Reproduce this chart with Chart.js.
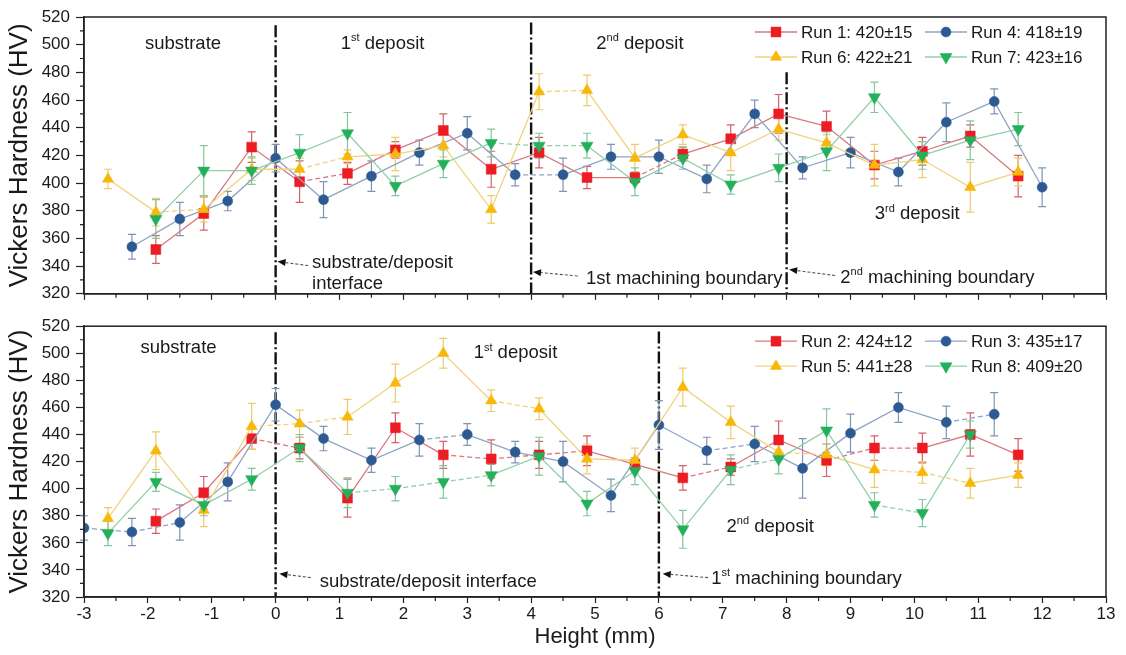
<!DOCTYPE html>
<html>
<head>
<meta charset="utf-8">
<script src="https://cdn.jsdelivr.net/npm/chart.js@4.4.1/dist/chart.umd.min.js"></script>
<style>
  html, body { margin: 0; padding: 0; background: #fff; }
  #wrap { position: relative; width: 1126px; height: 655px; }
  canvas { position: absolute; left: 0; }
  #top { top: 0; }
  #bottom { top: 310px; }
</style>
</head>
<body>
<div id="wrap">
  <canvas id="top" width="1126" height="310"></canvas>
  <canvas id="bottom" width="1126" height="345"></canvas>
</div>
<script>
// ---------- Axis ranges ----------
const xMin = -3, xMax = 13, xStep = 1;
const yMin = 320, yMax = 520, yStep = 20;

// ---------- Upper panel: Runs 1, 4, 6, 7 ----------
const run1Label = 'Run 1: 420\u00b115';
const run1X   = [-1.875, -1.125, -0.375, 0.375, 1.125, 1.875, 2.625, 3.375, 4.125, 4.875, 5.625, 6.375, 7.125, 7.875, 8.625, 9.375, 10.125, 10.875, 11.625];
const run1HV  = [352, 378, 426, 401, 407, 424, 438, 410, 422, 404, 404, 421, 432, 450, 441, 413, 423, 434, 405];
const run1Err = [10, 12, 11, 15, 8, 6, 12, 13, 11, 8, 4, 5, 10, 14, 11, 10, 10, 8, 15];

const run4Label = 'Run 4: 418\u00b119';
const run4X   = [-2.25, -1.5, -0.75, 0, 0.75, 1.5, 2.25, 3, 3.75, 4.5, 5.25, 6, 6.75, 7.5, 8.25, 9, 9.75, 10.5, 11.25, 12];
const run4HV  = [354, 374, 387, 418, 388, 405, 422, 436, 406, 406, 419, 419, 403, 450, 411, 422, 408, 444, 459, 397];
const run4Err = [9, 12, 7, 10, 13, 11, 9, 12, 8, 12, 9, 12, 10, 10, 8, 11, 10, 14, 9, 14];

const run6Label = 'Run 6: 422\u00b121';
const run6X   = [-2.625, -1.875, -1.125, -0.375, 0.375, 1.125, 1.875, 2.625, 3.375, 4.125, 4.875, 5.625, 6.375, 7.125, 7.875, 8.625, 9.375, 10.125, 10.875, 11.625];
const run6HV  = [403, 379, 381, 410, 410, 419, 421, 427, 381, 466, 467, 418, 435, 422, 439, 429, 413, 417, 397, 408];
const run6Err = [7, 10, 9, 8, 8, 5, 12, 8, 10, 13, 11, 10, 7, 13, 8, 6, 15, 13, 18, 10];

const run7Label = 'Run 7: 423\u00b116';
const run7X   = [-1.875, -1.125, -0.375, 0.375, 1.125, 1.875, 2.625, 3.375, 4.125, 4.875, 5.625, 6.375, 7.125, 7.875, 8.625, 9.375, 10.125, 10.875, 11.625];
const run7HV  = [374, 409, 409, 422, 436, 398, 414, 429, 427, 427, 401, 418, 399, 411, 423, 462, 420, 431, 439];
const run7Err = [14, 18, 10, 13, 15, 7, 10, 10, 9, 9, 10, 8, 7, 10, 14, 11, 10, 14, 12];

// ---------- Lower panel: Runs 2, 3, 5, 8 ----------
const run2Label = 'Run 2: 424\u00b112';
const run2X   = [-1.875, -1.125, -0.375, 0.375, 1.125, 1.875, 2.625, 3.375, 4.125, 4.875, 5.625, 6.375, 7.125, 7.875, 8.625, 9.375, 10.125, 10.875, 11.625];
const run2HV  = [376, 397, 437, 430, 393, 445, 425, 422, 425, 428, 418, 408, 416, 436, 421, 430, 430, 440, 425];
const run2Err = [9, 12, 8, 8, 14, 11, 10, 14, 10, 11, 5, 9, 6, 14, 12, 9, 11, 16, 12];

const run3Label = 'Run 3: 435\u00b117';
const run3X   = [-3, -2.25, -1.5, -0.75, 0, 0.75, 1.5, 2.25, 3, 3.75, 4.5, 5.25, 6, 6.75, 7.5, 8.25, 9, 9.75, 10.5, 11.25];
const run3HV  = [371, 368, 375, 405, 462, 437, 421, 436, 440, 427, 420, 395, 447, 428, 433, 415, 441, 460, 449, 455];
const run3Err = [9, 10, 13, 14, 12, 9, 9, 12, 8, 8, 15, 12, 18, 10, 13, 22, 14, 11, 12, 16];

const run5Label = 'Run 5: 441\u00b128';
const run5X   = [-2.625, -1.875, -1.125, -0.375, 0.375, 1.125, 1.875, 2.625, 3.375, 4.125, 4.875, 5.625, 6.375, 7.125, 7.875, 8.625, 9.375, 10.125, 10.875, 11.625];
const run5HV  = [378, 428, 384, 446, 448, 453, 478, 500, 465, 459, 422, 421, 475, 449, 427, 425, 414, 412, 404, 410];
const run5Err = [8, 14, 12, 17, 10, 13, 14, 11, 8, 8, 11, 9, 14, 12, 6, 8, 13, 8, 11, 9];

const run8Label = 'Run 8: 409\u00b120';
const run8X   = [-2.625, -1.875, -1.125, -0.375, 0.375, 1.125, 1.875, 2.625, 3.375, 4.125, 4.875, 5.625, 6.375, 7.125, 7.875, 8.625, 9.375, 10.125, 10.875];
const run8HV  = [367, 405, 388, 407, 430, 397, 400, 405, 410, 424, 389, 413, 370, 414, 422, 443, 388, 382, 440];
const run8Err = [9, 7, 8, 8, 10, 11, 9, 12, 8, 14, 9, 10, 14, 11, 11, 16, 9, 10, 10];

// ---------- Styles ----------
const FONT = '"Liberation Sans", Arial, Helvetica, sans-serif';
const TEXT = '#1a1a1a';
const STYLE = {
  red:    { marker: '#ec1c24', line: '#d9787e', err: '#d2626a', shape: 'rect',     rot: 0,   r: 7 },
  blue:   { marker: '#2d5a93', line: '#8fa4c3', err: '#7f95b5', shape: 'circle',   rot: 0,   r: 5 },
  yellow: { marker: '#f7b80a', line: '#f1d27e', err: '#edcb6c', shape: 'triangle', rot: 0,   r: 6.5 },
  green:  { marker: '#24b05b', line: '#93cfa9', err: '#86c59e', shape: 'triangle', rot: 180, r: 7 }
};

function series(label, xs, ys, es, st, order, dashed) {
  return {
    label: label,
    order: order,
    data: xs.map((x, i) => ({ x: x, y: ys[i], e: es[i] })),
    borderColor: st.line,
    borderWidth: 1.3,
    backgroundColor: st.marker,
    pointBackgroundColor: st.marker,
    pointBorderColor: st.marker,
    pointBorderWidth: 0.5,
    pointStyle: st.shape,
    pointRotation: st.rot,
    pointRadius: st.r,
    pointHoverRadius: st.r,
    errColor: st.err,
    tension: 0,
    fill: false,
    segment: { borderDash: c => (dashed.indexOf(c.p0DataIndex) >= 0 ? [5, 3] : undefined) }
  };
}

// ---------- Plugins ----------
// Vertical error bars with caps, drawn beneath the markers
const errorBars = {
  id: 'errorBars',
  beforeDatasetsDraw(chart) {
    const ctx = chart.ctx, xs = chart.scales.x, ys = chart.scales.y;
    ctx.save();
    ctx.lineWidth = 1.2;
    chart.data.datasets.forEach(ds => {
      ctx.strokeStyle = ds.errColor;
      ds.data.forEach(p => {
        const px = xs.getPixelForValue(p.x);
        const lo = ys.getPixelForValue(p.y - p.e);
        const hi = ys.getPixelForValue(p.y + p.e);
        ctx.beginPath();
        ctx.moveTo(px, lo); ctx.lineTo(px, hi);
        ctx.moveTo(px - 4, lo); ctx.lineTo(px + 4, lo);
        ctx.moveTo(px - 4, hi); ctx.lineTo(px + 4, hi);
        ctx.stroke();
      });
    });
    ctx.restore();
  }
};

// Dash-dot boundary lines
const boundaries = {
  id: 'boundaries',
  beforeDatasetsDraw(chart, args, opts) {
    const ctx = chart.ctx, xs = chart.scales.x, ys = chart.scales.y;
    ctx.save();
    ctx.strokeStyle = '#111';
    ctx.lineWidth = 2.4;
    ctx.setLineDash([12, 3, 2, 3]);
    (opts.lines || []).forEach(l => {
      const px = xs.getPixelForValue(l.x);
      ctx.beginPath();
      ctx.moveTo(px, ys.getPixelForValue(l.from));
      ctx.lineTo(px, chart.chartArea.bottom);
      ctx.stroke();
    });
    ctx.restore();
  }
};

// Text with ^superscripts, e.g. "1^st deposit"
function drawRich(ctx, str, x, y, align, size) {
  const parts = str.split(/\^(\w+)/);
  const fN = size + 'px ' + FONT, fS = Math.round(size * 0.62) + 'px ' + FONT;
  let w = 0;
  parts.forEach((t, i) => { ctx.font = i % 2 ? fS : fN; w += ctx.measureText(t).width; });
  let cx = align === 'center' ? x - w / 2 : x;
  const base = y + size * 0.36;
  ctx.textAlign = 'left';
  ctx.textBaseline = 'alphabetic';
  parts.forEach((t, i) => {
    ctx.font = i % 2 ? fS : fN;
    ctx.fillText(t, cx, i % 2 ? base - size * 0.42 : base);
    cx += ctx.measureText(t).width;
  });
}

// Region labels and pointer arrows
const notes = {
  id: 'notes',
  afterDraw(chart, args, opts) {
    const ctx = chart.ctx, xs = chart.scales.x, ys = chart.scales.y;
    ctx.save();
    ctx.fillStyle = TEXT;
    (opts.texts || []).forEach(t => {
      drawRich(ctx, t.s, xs.getPixelForValue(t.x), ys.getPixelForValue(t.y), t.align || 'left', 18.5);
    });
    (opts.arrows || []).forEach(a => {
      const x1 = xs.getPixelForValue(a.x1), y1 = ys.getPixelForValue(a.y1);
      const x2 = xs.getPixelForValue(a.x2), y2 = ys.getPixelForValue(a.y2);
      const ang = Math.atan2(y2 - y1, x2 - x1);
      ctx.strokeStyle = '#555';
      ctx.lineWidth = 1.1;
      ctx.setLineDash([3, 2]);
      ctx.beginPath();
      ctx.moveTo(x1, y1);
      ctx.lineTo(x2 - 6 * Math.cos(ang), y2 - 6 * Math.sin(ang));
      ctx.stroke();
      ctx.setLineDash([]);
      ctx.fillStyle = '#111';
      ctx.beginPath();
      ctx.moveTo(x2, y2);
      ctx.lineTo(x2 - 8 * Math.cos(ang) + 3.5 * Math.sin(ang), y2 - 8 * Math.sin(ang) - 3.5 * Math.cos(ang));
      ctx.lineTo(x2 - 8 * Math.cos(ang) - 3.5 * Math.sin(ang), y2 - 8 * Math.sin(ang) + 3.5 * Math.cos(ang));
      ctx.closePath();
      ctx.fill();
      ctx.fillStyle = TEXT;
    });
    ctx.restore();
  }
};

// Frame, minor ticks and the two-column legend
const frameAndLegend = {
  id: 'frameAndLegend',
  afterDraw(chart) {
    const ctx = chart.ctx, a = chart.chartArea, xs = chart.scales.x, ys = chart.scales.y;
    ctx.save();
    ctx.strokeStyle = '#222';
    ctx.lineWidth = 1.5;
    ctx.strokeRect(a.left, a.top, a.right - a.left, a.bottom - a.top);
    ctx.lineWidth = 1.2;
    ctx.beginPath();
    for (let v = yMin + yStep / 2; v < yMax; v += yStep) {
      const py = ys.getPixelForValue(v);
      ctx.moveTo(a.left - 4, py); ctx.lineTo(a.left, py);
    }
    for (let v = xMin + xStep / 2; v < xMax; v += xStep) {
      const px = xs.getPixelForValue(v);
      ctx.moveTo(px, a.bottom); ctx.lineTo(px, a.bottom + 4);
    }
    ctx.stroke();

    const cols = [a.right - 351, a.right - 181];
    const rows = [a.top + 15, a.top + 40];
    chart.data.datasets.forEach((ds, i) => {
      const x0 = cols[i % 2], y0 = rows[Math.floor(i / 2)];
      ctx.strokeStyle = ds.borderColor;
      ctx.lineWidth = 1.3;
      ctx.beginPath();
      ctx.moveTo(x0, y0); ctx.lineTo(x0 + 42, y0);
      ctx.stroke();
      ctx.fillStyle = ds.pointBackgroundColor;
      ctx.strokeStyle = ds.pointBorderColor;
      ctx.lineWidth = 0.5;
      Chart.helpers.drawPoint(ctx, {
        pointStyle: ds.pointStyle, radius: ds.pointRadius, rotation: ds.pointRotation, borderWidth: 0.5
      }, x0 + 21, y0);
      ctx.fillStyle = TEXT;
      ctx.font = '17px ' + FONT;
      ctx.textAlign = 'left';
      ctx.textBaseline = 'middle';
      ctx.fillText(ds.label, x0 + 46, y0 + 1);
    });
    ctx.restore();
  }
};

function scalesFor(showX) {
  return {
    x: {
      type: 'linear', min: xMin, max: xMax,
      ticks: { stepSize: xStep, display: showX, autoSkip: false, maxRotation: 0, padding: 1,
               color: TEXT, font: { family: FONT, size: 17 }, callback: v => String(v) },
      grid: { drawOnChartArea: false, drawTicks: true, tickLength: 6, tickColor: '#222', tickWidth: 1.2 },
      border: { display: true, color: '#222', width: 1.5 },
      title: { display: showX, text: 'Height (mm)', color: TEXT, font: { family: FONT, size: 22 },
               padding: { top: 0, bottom: 5 } },
      afterFit: s => { s.height = showX ? 58 : 15; }
    },
    y: {
      min: yMin, max: yMax,
      ticks: { stepSize: yStep, padding: 6, color: TEXT, font: { family: FONT, size: 17 } },
      grid: { drawOnChartArea: false, drawTicks: true, tickLength: 8, tickColor: '#222', tickWidth: 1.2 },
      border: { display: true, color: '#222', width: 1.5 },
      title: { display: true, text: 'Vickers Hardness (HV)', color: TEXT, font: { family: FONT, size: 26 },
               padding: { top: 4, bottom: 0 } },
      afterFit: s => { s.width = 84; }
    }
  };
}

function makeChart(id, datasets, padTop, showX, lines, texts, arrows) {
  return new Chart(document.getElementById(id), {
    type: 'line',
    data: { datasets: datasets },
    options: {
      responsive: false,
      animation: false,
      layout: { padding: { top: padTop, right: 20, left: 0, bottom: 0 } },
      scales: scalesFor(showX),
      plugins: {
        legend: { display: false },
        tooltip: { enabled: false },
        boundaries: { lines: lines },
        notes: { texts: texts, arrows: arrows }
      }
    },
    plugins: [boundaries, errorBars, notes, frameAndLegend]
  });
}

// ---------- Upper panel ----------
makeChart('top', [
  series(run1Label, run1X, run1HV, run1Err, STYLE.red,    4, [3, 10]),
  series(run4Label, run4X, run4HV, run4Err, STYLE.blue,   3, [8]),
  series(run6Label, run6X, run6HV, run6Err, STYLE.yellow, 2, [1, 4, 9]),
  series(run7Label, run7X, run7HV, run7Err, STYLE.green,  1, [7, 8])
], 17, false,
  [ { x: 0, from: 514 }, { x: 4, from: 516 }, { x: 8, from: 480 } ],
  [
    { s: 'substrate', x: -1.45, y: 501.5, align: 'center' },
    { s: '1^st deposit', x: 1.02, y: 501.5 },
    { s: '2^nd deposit', x: 5.02, y: 501.5 },
    { s: '3^rd deposit', x: 9.38, y: 378.5 },
    { s: 'substrate/deposit', x: 0.57, y: 343.7 },
    { s: 'interface', x: 0.57, y: 328.6 },
    { s: '1st machining boundary', x: 4.86, y: 332.2 },
    { s: '2^nd machining boundary', x: 8.84, y: 332.9 }
  ],
  [
    { x1: 0.51, y1: 340.4, x2: 0.03, y2: 343.3 },
    { x1: 4.73, y1: 332.9, x2: 4.03, y2: 335.8 },
    { x1: 8.76, y1: 333.2, x2: 8.04, y2: 337.5 }
  ]
);

// ---------- Lower panel ----------
makeChart('bottom', [
  series(run2Label, run2X, run2HV, run2Err, STYLE.red,    4, [2, 6, 7, 8, 11, 14, 15]),
  series(run3Label, run3X, run3HV, run3Err, STYLE.blue,   3, [0, 1, 7, 13, 18]),
  series(run5Label, run5X, run5HV, run5Err, STYLE.yellow, 2, [3, 4, 8, 14, 16, 17]),
  series(run8Label, run8X, run8HV, run8Err, STYLE.green,  1, [5, 6, 7, 13, 16])
], 11, true,
  [ { x: 0, from: 515.5 }, { x: 6, from: 516 } ],
  [
    { s: 'substrate', x: -1.52, y: 505, align: 'center' },
    { s: '1^st deposit', x: 3.1, y: 501.2 },
    { s: '2^nd deposit', x: 7.06, y: 372.9 },
    { s: 'substrate/deposit interface', x: 0.69, y: 332.3 },
    { s: '1^st machining boundary', x: 6.82, y: 334.5 }
  ],
  [
    { x1: 0.55, y1: 334.3, x2: 0.06, y2: 337.2 },
    { x1: 6.77, y1: 334.3, x2: 6.06, y2: 337.2 }
  ]
);
</script>
</body>
</html>
